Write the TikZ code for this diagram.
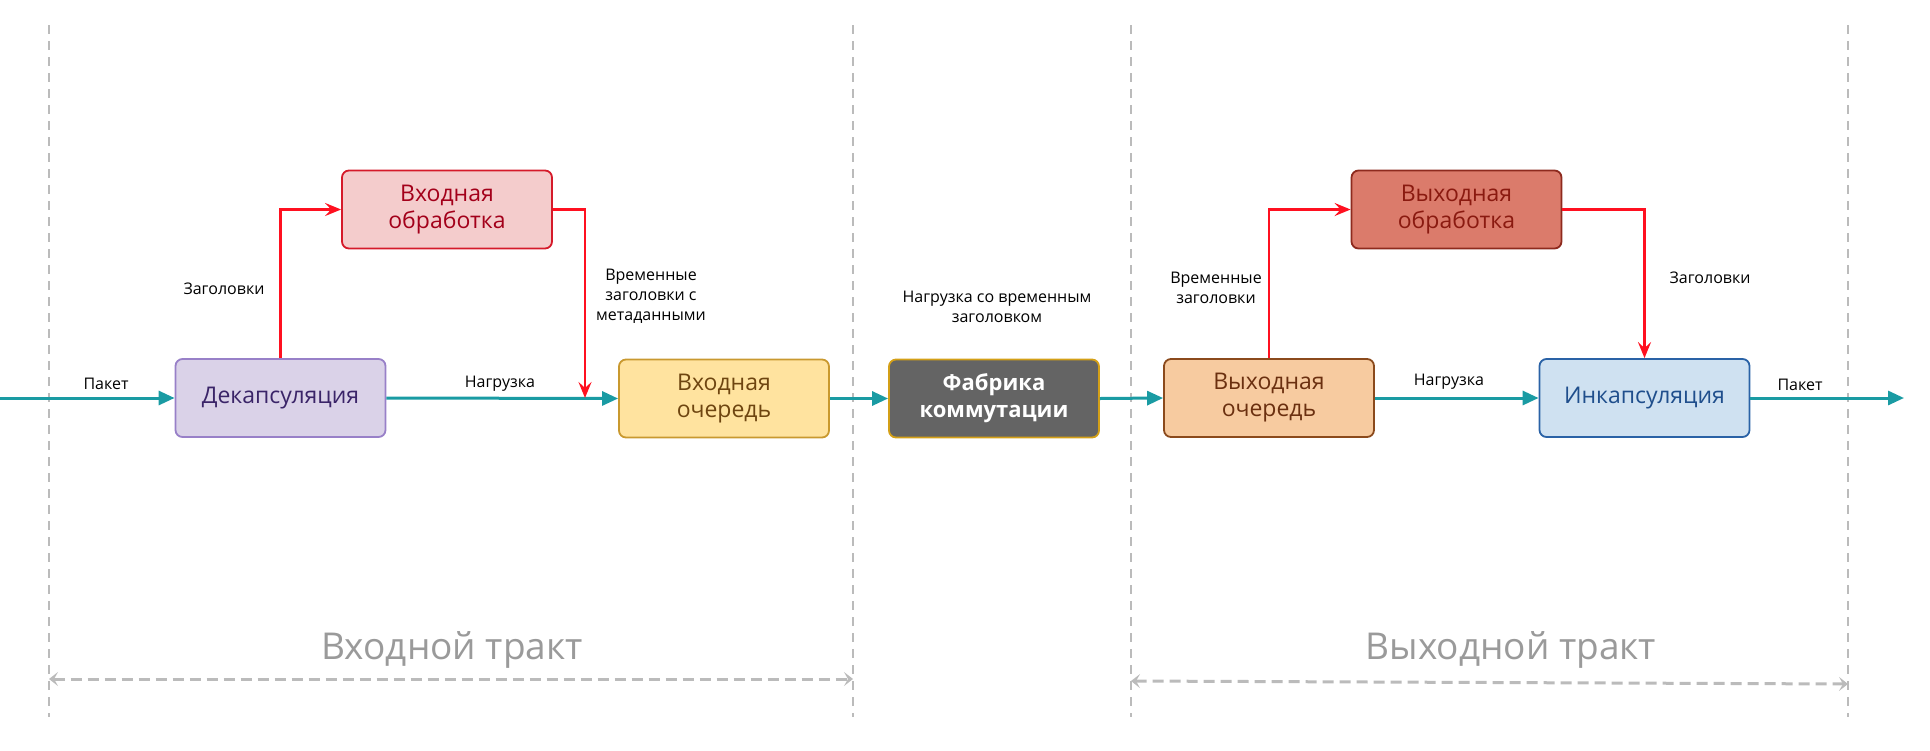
\documentclass[tikz,border=0pt]{standalone}
\usepackage{fontspec}
\setmainfont{Open Sans}
\usetikzlibrary{arrows.meta}
\definecolor{decfill}{HTML}{DAD2E8}\definecolor{decdraw}{HTML}{9880C8}\definecolor{dectext}{HTML}{3A2468}
\definecolor{ipfill}{HTML}{F4CCCC}\definecolor{ipdraw}{HTML}{D51A2A}\definecolor{iptext}{HTML}{A3001A}
\definecolor{iqfill}{HTML}{FFE39F}\definecolor{iqdraw}{HTML}{C9992F}\definecolor{iqtext}{HTML}{6E4510}
\definecolor{fbfill}{HTML}{646464}\definecolor{fbdraw}{HTML}{D4A017}
\definecolor{oqfill}{HTML}{F7CBA0}\definecolor{oqdraw}{HTML}{8B4A1C}\definecolor{oqtext}{HTML}{6B3010}
\definecolor{opfill}{HTML}{DB7B6B}\definecolor{opdraw}{HTML}{8E2A1E}\definecolor{optext}{HTML}{8A1A10}
\definecolor{ecfill}{HTML}{CFE1F1}\definecolor{ecdraw}{HTML}{2A62A6}\definecolor{ectext}{HTML}{1F4E8C}
\definecolor{teal}{HTML}{1A9BA3}
\definecolor{redline}{HTML}{FF1020}
\definecolor{sepgray}{HTML}{BBBBBB}
\definecolor{biggray}{HTML}{9A9A9A}
\begin{document}
\begin{tikzpicture}[x=1pt,y=-1pt,
  box/.style={rectangle, rounded corners=7pt, line width=1.8pt, minimum width=210pt, minimum height=78pt,
     align=center, font=\fontsize{23}{27}\selectfont, inner sep=2pt},
  flow/.style={teal, line width=3pt, -{Triangle[length=16pt,width=14pt]}},
  hdr/.style={redline, line width=2.6pt, -{Stealth[length=16pt,width=13pt,inset=6pt]}},
  lbl/.style={font=\fontsize{16}{20}\selectfont, align=center, text=black, inner sep=0pt},
  sep/.style={sepgray, line width=1.4pt, dash pattern=on 9pt off 7pt},
  span/.style={sepgray, line width=3pt, dash pattern=on 11pt off 6pt, {Stealth[length=9pt,width=14pt,inset=4pt]}-{Stealth[length=9pt,width=14pt,inset=4pt]}},
  big/.style={font=\fontsize{37}{42}\selectfont, text=biggray, inner sep=0pt}]
\useasboundingbox (0,0) rectangle (1930,750);
% separators
\coordinate (s1t) at (49,25);   \coordinate (s1b) at (49,717);
\coordinate (s2t) at (853,25);  \coordinate (s2b) at (853,717);
\coordinate (s3t) at (1131,25); \coordinate (s3b) at (1131,717);
\coordinate (s4t) at (1848,25); \coordinate (s4b) at (1848,717);
\draw[sep] (s1t) -- (s1b);
\draw[sep] (s2t) -- (s2b);
\draw[sep] (s3t) -- (s3b);
\draw[sep] (s4t) -- (s4b);
% boxes
\node[box, fill=decfill, draw=decdraw, text=dectext] (dec) at (280.5,398) {Декапсуляция};
\node[box, fill=ipfill, draw=ipdraw, text=iptext] (inproc) at (447,209.5) {Входная\\обработка};
\node[box, fill=iqfill, draw=iqdraw, text=iqtext] (inq) at (724,398.5) {Входная\\очередь};
\node[box, fill=fbfill, draw=fbdraw, text=white, font=\fontsize{22}{27}\selectfont\bfseries] (fab) at (994,398.5) {Фабрика\\коммутации};
\node[box, fill=oqfill, draw=oqdraw, text=oqtext] (outq) at (1269,398) {Выходная\\очередь};
\node[box, fill=opfill, draw=opdraw, text=optext] (outproc) at (1456.5,209.5) {Выходная\\обработка};
\node[box, fill=ecfill, draw=ecdraw, text=ectext] (encap) at (1644.5,398) {Инкапсуляция};
% free ends
\coordinate (pin) at (0,398);
\coordinate (pout) at (1904,398);
\coordinate (m1) at (585,398);
% teal flow
\draw[flow] (pin) -- (dec.west);
\draw[flow] (dec.east) -- (inq.west);
\draw[flow] (inq.east) -- (fab.west);
\draw[flow] (fab.east) -- (outq.west);
\draw[flow] (outq.east) -- (encap.west);
\draw[flow] (encap.east) -- (pout);
% red header paths
\draw[hdr] (dec.north) |- (inproc.west);
\draw[hdr] (inproc.east) -| (m1);
\draw[hdr] (outq.north) |- (outproc.west);
\draw[hdr] (outproc.east) -| (encap.north);
% labels
\node[lbl] (l1) at (106,384) {Пакет};
\node[lbl] (l2) at (224,289) {Заголовки};
\node[lbl] (l3) at (500,384) {Нагрузка};
\node[lbl] (l4) at (651,296) {Временные\\заголовки с\\метаданными};
\node[lbl] (l5) at (997,307) {Нагрузка со временным\\заголовком};
\node[lbl] (l6) at (1216,288) {Временные\\заголовки};
\node[lbl] (l7) at (1710,278) {Заголовки};
\node[lbl] (l8) at (1449,382) {Нагрузка};
\node[lbl] (l9) at (1800,385) {Пакет};
% spans
\node[big] (t1) at (452,650) {Входной тракт};
\node[big] (t2) at (1511,650) {Выходной тракт};
\coordinate (a1) at (49,679);  \coordinate (a2) at (853,679);
\coordinate (b1) at (1131,681); \coordinate (b2) at (1848,684);
\draw[span] (a1) -- (a2);
\draw[span] (b1) -- (b2);
\end{tikzpicture}
\end{document}
